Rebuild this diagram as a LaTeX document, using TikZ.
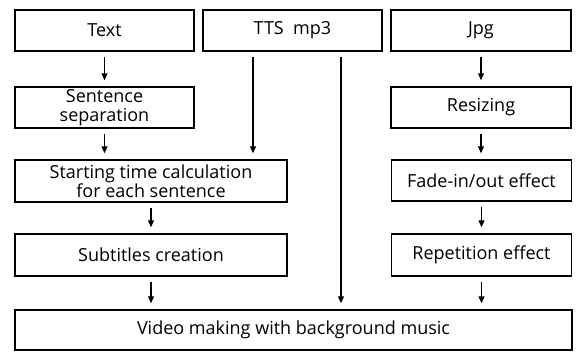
\documentclass[tikz,border=0pt]{standalone}
\usepackage{fontspec}
\setmainfont{Open Sans}
\usetikzlibrary{arrows.meta}
\begin{document}
\begin{tikzpicture}[x=1pt,y=-1pt,
  box/.style={draw=black,line width=1.5pt,inner sep=0pt,align=center,
    font=\fontsize{18}{18.5}\selectfont},
  arr/.style={line width=1.3pt,-{Triangle[length=7pt,width=6pt]},shorten <=5pt,shorten >=6pt}]
\useasboundingbox (0,0) rectangle (576,351);
% top row
\node[box,minimum width=179pt,minimum height=41pt] (text) at (104.5,30.5) {Text};
\node[box,minimum width=179pt,minimum height=41pt] (tts) at (292.5,30.5) {TTS\ \ mp3};
\node[box,minimum width=180pt,minimum height=41pt] (jpg) at (481,30.5) {Jpg};
% second row
\node[box,minimum width=179pt,minimum height=41pt] (sent) at (104.5,107.5) {Sentence\\separation};
\node[box,minimum width=180pt,minimum height=41pt] (resize) at (481,107.5) {Resizing};
% third row
\node[box,minimum width=272pt,minimum height=42pt] (start) at (151,181) {Starting time calculation\\for each sentence};
\node[box,minimum width=180pt,minimum height=41pt] (fade) at (481.5,180.5) {Fade-in/out effect};
% fourth row
\node[box,minimum width=272pt,minimum height=42pt] (sub) at (151,255) {Subtitles creation};
\node[box,minimum width=180pt,minimum height=42pt] (rep) at (481.5,255) {Repetition effect};
% bottom
\node[box,minimum width=557pt,minimum height=40pt] (video) at (293.5,330) {Video making with background music};
% connectors
\draw[arr] (text) -- (sent);
\draw[arr] (sent.south) -- (sent.south |- start.north);
\draw[arr] ([xshift=-39.5pt]tts.south) -- ([xshift=-39.5pt]tts.south |- start.north);
\draw[arr] ([xshift=48.5pt]tts.south) -- ([xshift=48.5pt]tts.south |- video.north);
\draw[arr] (start) -- (sub);
\draw[arr] (sub.south) -- (sub.south |- video.north);
\draw[arr] (jpg) -- (resize);
\draw[arr] (resize.south) -- (resize.south |- fade.north);
\draw[arr] (fade) -- (rep);
\draw[arr] (rep.south) -- (rep.south |- video.north);
\end{tikzpicture}
\end{document}
